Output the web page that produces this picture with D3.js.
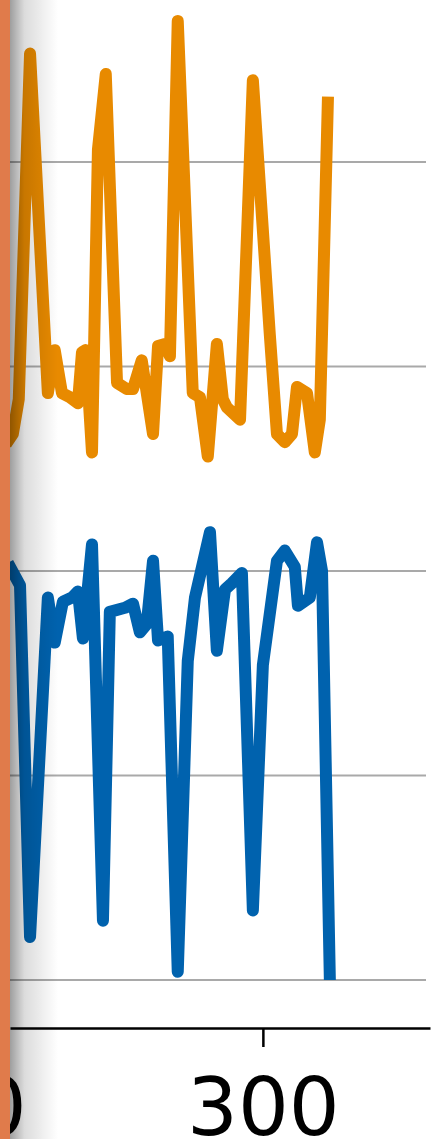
<!DOCTYPE html>
<html>
<head>
<meta charset="utf-8">
<script src="https://cdn.jsdelivr.net/npm/d3@7"></script>
<style>
  body { margin: 0; background: #fff; }
  svg { display: block; }
</style>
</head>
<body>
<script>
// series
const orangeX = [217.9, 220.1, 222.0, 225.6, 231.3, 233.5, 235.8, 238.3, 240.9, 242.2, 243.4, 245.4, 247.3, 249.8,
  253.4, 256.5, 258.5, 261.3, 262.3, 264.9, 266.5, 268.7, 270.3, 272.8, 277.6, 279.9, 282.4, 285.3, 287.2,
  288.5, 292.7, 296.8, 302.2, 304.5, 307.0, 309.3, 310.9, 314.1, 316.6, 318.2, 320.8];
const orangeY = [2.62, 2.67, 2.84, 4.53, 2.87, 3.08, 2.87, 2.85, 2.82, 3.07, 3.08, 2.58, 4.06, 4.43,
  2.92, 2.89, 2.89, 3.03, 2.93, 2.67, 3.10, 3.11, 3.05, 4.69, 2.87, 2.85, 2.56, 3.11, 2.84,
  2.80, 2.74, 4.40, 3.16, 2.67, 2.63, 2.67, 2.90, 2.87, 2.58, 2.74, 4.32];

const blueX = [218.5, 222.4, 225.6, 231.3, 233.5, 236.1, 239.0, 240.9, 242.5, 245.4, 248.9, 251.1, 255.9,
  258.5, 260.7, 262.9, 264.9, 266.5, 269.6, 272.8, 276.0, 278.3, 283.1, 285.3, 287.9, 290.1, 293.3,
  296.8, 300.0, 304.5, 307.0, 310.2, 311.2, 315.0, 317.3, 318.9, 321.4];
const blueY = [2.04, 1.93, 0.21, 1.87, 1.65, 1.85, 1.87, 1.90, 1.67, 2.13, 0.29, 1.80, 1.82,
  1.84, 1.70, 1.74, 2.05, 1.66, 1.68, 0.04, 1.56, 1.87, 2.19, 1.61, 1.91, 1.94, 1.99,
  0.34, 1.54, 2.05, 2.10, 2.02, 1.83, 1.87, 2.14, 2.00, 0.00];

const xTicks = [200, 300];
const yGrid = [0, 1, 2, 3, 4];

const width = 447;
const height = 1139;

const svg = d3.select("body").append("svg")
  .attr("width", width)
  .attr("height", height);

const x = d3.scaleLinear().domain([219.2, 353.4]).range([10, 430]);
const y = d3.scaleLinear().domain([0, 4]).range([980, 162]);

// grid
svg.append("g")
  .selectAll("line")
  .data(yGrid)
  .join("line")
  .attr("x1", 10)
  .attr("x2", 426)
  .attr("y1", d => y(d))
  .attr("y2", d => y(d))
  .attr("stroke", "#a9a9a9")
  .attr("stroke-width", 2);

const line = (xs) => d3.line()
  .x((d, i) => x(xs[i]))
  .y(d => y(d));

svg.append("path")
  .attr("d", line(orangeX)(orangeY))
  .attr("fill", "none")
  .attr("stroke", "#e88a00")
  .attr("stroke-width", 12)
  .attr("stroke-linejoin", "round")
  .attr("stroke-linecap", "butt");

svg.append("path")
  .attr("d", line(blueX)(blueY))
  .attr("fill", "none")
  .attr("stroke", "#0062ae")
  .attr("stroke-width", 12)
  .attr("stroke-linejoin", "round")
  .attr("stroke-linecap", "butt");

// x axis
const axis = svg.append("g")
  .attr("transform", "translate(0,1028)")
  .call(d3.axisBottom(x).tickValues(xTicks).tickSize(19).tickSizeOuter(0).tickFormat(d3.format("d")));

axis.select(".domain").attr("stroke", "#000").attr("stroke-width", 2.5);
axis.selectAll(".tick line").attr("stroke", "#000").attr("stroke-width", 2.5);
axis.selectAll(".tick text")
  .attr("fill", "#000")
  .attr("font-family", "DejaVu Sans")
  .attr("font-size", 80)
  .attr("y", 50);

// left edge: bar and shadow
const defs = svg.append("defs");
const grad = defs.append("linearGradient").attr("id", "shade")
  .attr("x1", 0).attr("x2", 1).attr("y1", 0).attr("y2", 0);
grad.append("stop").attr("offset", 0).attr("stop-color", "#000").attr("stop-opacity", 0.38);
grad.append("stop").attr("offset", 0.3).attr("stop-color", "#000").attr("stop-opacity", 0.14);
grad.append("stop").attr("offset", 1).attr("stop-color", "#000").attr("stop-opacity", 0);

svg.append("rect")
  .attr("x", 10).attr("y", 0)
  .attr("width", 48).attr("height", height)
  .attr("fill", "url(#shade)");

svg.append("rect")
  .attr("x", 0).attr("y", 0)
  .attr("width", 10).attr("height", height)
  .attr("fill", "#e07b4b");
</script>
</body>
</html>
